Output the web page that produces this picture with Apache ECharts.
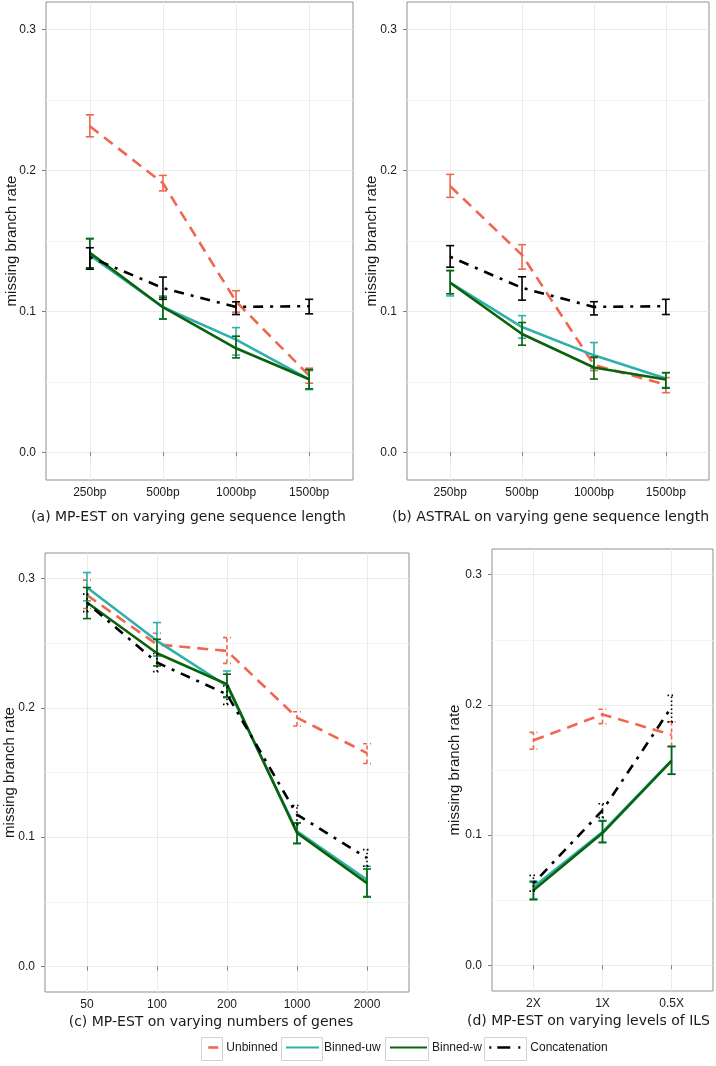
<!DOCTYPE html>
<html><head><meta charset="utf-8">
<script src="https://cdn.jsdelivr.net/npm/echarts@6/dist/echarts.min.js"></script>
<style>html,body{margin:0;padding:0;background:#fff}#c{width:716px;height:1066px}</style>
</head><body><div id="c"></div>
<script>
// ---------- categories / ticks ----------
const methods = ['Unbinned', 'Binned-uw', 'Binned-w', 'Concatenation'];
const catsA = ['250bp', '500bp', '1000bp', '1500bp'];
const catsB = ['250bp', '500bp', '1000bp', '1500bp'];
const catsC = ['50', '100', '200', '1000', '2000'];
const catsD = ['2X', '1X', '0.5X'];
const yTicks = [0, 0.1, 0.2, 0.3];
const yMinor = [0.05, 0.15, 0.25];
const captions = [
  '(a) MP-EST on varying gene sequence length',
  '(b) ASTRAL on varying gene sequence length',
  '(c) MP-EST on varying numbers of genes',
  '(d) MP-EST on varying levels of ILS'
];

// ---------- panel (a) ----------
const aUnbinned = [0.2315, 0.191, 0.107, 0.0545];
const aUnbinnedLo = [0.224, 0.1856, 0.0995, 0.049];
const aUnbinnedHi = [0.2396, 0.1966, 0.1147, 0.0597];
const aBinnedUw = [0.1399, 0.103, 0.080, 0.0518];
const aBinnedUwLo = [0.130, 0.0946, 0.069, 0.0445];
const aBinnedUwHi = [0.152, 0.111, 0.0885, 0.058];
const aBinnedW = [0.1416, 0.103, 0.0738, 0.0518];
const aBinnedWLo = [0.131, 0.0946, 0.067, 0.045];
const aBinnedWHi = [0.1515, 0.110, 0.0824, 0.0587];
const aConcat = [0.1386, 0.1166, 0.1032, 0.1037];
const aConcatLo = [0.130, 0.1086, 0.0978, 0.0983];
const aConcatHi = [0.1452, 0.1244, 0.1068, 0.1086];

// ---------- panel (b) ----------
const bUnbinned = [0.189, 0.140, 0.062, 0.048];
const bUnbinnedLo = [0.181, 0.130, 0.058, 0.0423];
const bUnbinnedHi = [0.1973, 0.1474, 0.067, 0.053];
const bBinnedUw = [0.1204, 0.0889, 0.0688, 0.0523];
const bBinnedUwLo = [0.111, 0.081, 0.0595, 0.046];
const bBinnedUwHi = [0.129, 0.097, 0.0779, 0.0565];
const bBinnedW = [0.1204, 0.084, 0.0602, 0.0516];
const bBinnedWLo = [0.1125, 0.076, 0.052, 0.0455];
const bBinnedWHi = [0.129, 0.0921, 0.0676, 0.0565];
const bConcat = [0.1388, 0.1167, 0.1032, 0.1037];
const bConcatLo = [0.1314, 0.108, 0.0975, 0.0978];
const bConcatHi = [0.1467, 0.1246, 0.1069, 0.1086];

// ---------- panel (c) ----------
const cUnbinned = [0.2871, 0.249, 0.244, 0.1924, 0.165];
const cUnbinnedLo = [0.2768, 0.240, 0.2344, 0.186, 0.157];
const cUnbinnedHi = [0.2987, 0.2577, 0.2543, 0.197, 0.1722];
const cBinnedUw = [0.293, 0.2518, 0.2169, 0.1046, 0.0671];
const cBinnedUwLo = [0.2827, 0.240, 0.2078, 0.0955, 0.0542];
const cBinnedUwHi = [0.3046, 0.2659, 0.2285, 0.111, 0.0775];
const cBinnedW = [0.2814, 0.2422, 0.2182, 0.1033, 0.0645];
const cBinnedWLo = [0.269, 0.2324, 0.2084, 0.095, 0.0537];
const cBinnedWHi = [0.293, 0.253, 0.226, 0.111, 0.0754];
const cConcat = [0.281, 0.235, 0.2104, 0.1175, 0.0839];
const cConcatLo = [0.2744, 0.228, 0.2027, 0.1097, 0.0775];
const cConcatHi = [0.2879, 0.242, 0.2169, 0.1245, 0.0904];

// ---------- panel (d) ----------
const dUnbinned = [0.1728, 0.1927, 0.177];
const dUnbinnedLo = [0.1659, 0.1856, 0.168];
const dUnbinnedHi = [0.1789, 0.1966, 0.187];
const dBinnedUw = [0.0601, 0.1024, 0.1574];
const dBinnedUwLo = [0.0512, 0.0947, 0.147];
const dBinnedUwHi = [0.0648, 0.1113, 0.1682];
const dBinnedW = [0.0576, 0.1016, 0.157];
const dBinnedWLo = [0.0504, 0.0942, 0.1467];
const dBinnedWHi = [0.064, 0.1108, 0.168];
const dConcat = [0.063, 0.119, 0.1984];
const dConcatLo = [0.057, 0.1134, 0.1868];
const dConcatHi = [0.0691, 0.1241, 0.2073];

// ---------- styling ----------
const colors = {'Unbinned': '#F0674F', 'Binned-uw': '#2FB0AA', 'Binned-w': '#0A630A', 'Concatenation': '#000000'};
const lineTypes = {'Unbinned': [11, 7], 'Binned-uw': 'solid', 'Binned-w': 'solid', 'Concatenation': [3, 7, 10, 7]};
const FONT = '"Liberation Sans", Arial, sans-serif';
const TXT = '#1a1a1a';

const panels = [
  {cats: catsA, grid: {left: 46, top: 2, width: 307, height: 478}, nameGap: 27, cap: [188.5, 517], dashedErr: false,
   data: [[aUnbinned, aUnbinnedLo, aUnbinnedHi], [aBinnedUw, aBinnedUwLo, aBinnedUwHi], [aBinnedW, aBinnedWLo, aBinnedWHi], [aConcat, aConcatLo, aConcatHi]]},
  {cats: catsB, grid: {left: 407, top: 2, width: 302, height: 478}, nameGap: 28, cap: [550.5, 517], dashedErr: false,
   data: [[bUnbinned, bUnbinnedLo, bUnbinnedHi], [bBinnedUw, bBinnedUwLo, bBinnedUwHi], [bBinnedW, bBinnedWLo, bBinnedWHi], [bConcat, bConcatLo, bConcatHi]]},
  {cats: catsC, grid: {left: 45, top: 553, width: 364, height: 439}, nameGap: 28, cap: [211, 1022], dashedErr: true,
   data: [[cUnbinned, cUnbinnedLo, cUnbinnedHi], [cBinnedUw, cBinnedUwLo, cBinnedUwHi], [cBinnedW, cBinnedWLo, cBinnedWHi], [cConcat, cConcatLo, cConcatHi]]},
  {cats: catsD, grid: {left: 492, top: 549, width: 221, height: 442}, nameGap: 30, cap: [588.5, 1021], dashedErr: true,
   data: [[dUnbinned, dUnbinnedLo, dUnbinnedHi], [dBinnedUw, dBinnedUwLo, dBinnedUwHi], [dBinnedW, dBinnedWLo, dBinnedWHi], [dConcat, dConcatLo, dConcatHi]]}
];

const Y_MIN = -0.0197, Y_MAX = 0.3197;
const grids = [], xAxes = [], yAxes = [], series = [], graphics = [];

panels.forEach((p, pi) => {
  grids.push(Object.assign({show: true, borderColor: '#8f8f8f', borderWidth: 1, backgroundColor: '#fff',
    containLabel: false, outerBoundsMode: 'none'}, p.grid));
  const idx = p.cats.map((c, i) => i);
  xAxes.push({
    type: 'value', gridIndex: pi, min: -0.6, max: p.cats.length - 0.4, position: 'bottom',
    axisLine: {show: false},
    axisTick: {show: true, length: 4, customValues: idx, lineStyle: {color: '#7f7f7f'}},
    axisLabel: {show: true, customValues: idx, margin: 7, fontSize: 12, color: TXT, fontFamily: FONT,
                formatter: v => p.cats[Math.round(v)]},
    splitLine: {show: true, lineStyle: {color: '#ebebeb', width: 1}}
  });
  // minor grid (y)
  yAxes.push({
    type: 'value', gridIndex: pi, min: Y_MIN, max: Y_MAX, position: 'left', offset: 0,
    axisLine: {show: false}, axisLabel: {show: false},
    axisTick: {show: false, customValues: yMinor},
    splitLine: {show: true, lineStyle: {color: '#f4f4f4', width: 1}}
  });
  // major y
  yAxes.push({
    type: 'value', gridIndex: pi, min: Y_MIN, max: Y_MAX, position: 'left', offset: 0,
    name: 'missing branch rate', nameLocation: 'middle', nameGap: p.nameGap, nameMoveOverlap: false,
    nameTextStyle: {fontSize: 15, color: TXT, fontFamily: FONT},
    axisLine: {show: false, onZero: false},
    axisTick: {show: true, length: 4, customValues: yTicks, lineStyle: {color: '#7f7f7f'}},
    axisLabel: {show: true, customValues: yTicks, margin: 10, fontSize: 12, color: TXT, fontFamily: FONT,
                formatter: v => v.toFixed(1)},
    splitLine: {show: true, lineStyle: {color: '#ebebeb', width: 1}}
  });
  methods.forEach((m, mi) => {
    const [mean, lo, hi] = p.data[mi];
    series.push({
      type: 'line', name: m, xAxisIndex: pi, yAxisIndex: pi * 2 + 1,
      data: mean.map((v, i) => [i, v]), symbol: 'none', z: 3 + mi,
      lineStyle: {color: colors[m], width: 2.6, type: lineTypes[m]},
      itemStyle: {color: colors[m]}
    });
    let dash = null;
    if (p.dashedErr && m === 'Unbinned') dash = [4, 3];
    if (p.dashedErr && m === 'Concatenation') dash = [1.5, 2.5];
    series.push({
      type: 'custom', name: m + ' err', xAxisIndex: pi, yAxisIndex: pi * 2 + 1, z: 3 + mi,
      encode: {x: 0, y: [1, 2]},
      data: lo.map((v, i) => [i, v, hi[i]]),
      renderItem: (params, api) => {
        const x = api.value(0);
        const a = api.coord([x, api.value(1)]);
        const b = api.coord([x, api.value(2)]);
        const hw = 4;
        const st = {stroke: colors[m], lineWidth: 1.6, lineDash: dash, fill: null};
        return {type: 'group', children: [
          {type: 'line', shape: {x1: a[0], y1: a[1], x2: b[0], y2: b[1]}, style: st},
          {type: 'line', shape: {x1: a[0] - hw, y1: a[1], x2: a[0] + hw, y2: a[1]}, style: st},
          {type: 'line', shape: {x1: b[0] - hw, y1: b[1], x2: b[0] + hw, y2: b[1]}, style: st}
        ]};
      }
    });
  });
  graphics.push({type: 'text', x: p.cap[0], y: p.cap[1],
    style: {text: captions[pi], font: '14px "DejaVu Sans", sans-serif', fill: TXT,
            textAlign: 'center', textVerticalAlign: 'middle', align: 'center', verticalAlign: 'middle'}});
});

// legend key boxes
[[201, 1037, 21, 23], [281, 1037, 41, 23], [385, 1037, 43, 23], [484, 1037, 42, 23]].forEach(r => {
  graphics.push({type: 'rect', shape: {x: r[0] + 0.5, y: r[1] + 0.5, width: r[2], height: r[3]},
    style: {fill: '#fff', stroke: '#d2d2d2', lineWidth: 1}, z: -1});
});

const legendCommon = {orient: 'horizontal', top: 1041.5, padding: 0, itemHeight: 14, selectedMode: false,
  itemStyle: {opacity: 0},
  textStyle: {fontSize: 12, color: TXT, fontFamily: FONT}};
const legends = [
  Object.assign({}, legendCommon, {left: 207, itemWidth: 10,
    data: [{name: 'Unbinned', lineStyle: {type: 'solid', width: 2.6}}], textStyle: Object.assign({}, legendCommon.textStyle, {padding: [0, 0, 0, 3]})}),
  Object.assign({}, legendCommon, {left: 285, itemWidth: 33, data: [{name: 'Binned-uw'}]}),
  Object.assign({}, legendCommon, {left: 389, itemWidth: 37, data: [{name: 'Binned-w'}]}),
  Object.assign({}, legendCommon, {left: 488, itemWidth: 33,
    data: [{name: 'Concatenation', lineStyle: {type: [2, 6, 13, 8, 2, 30], width: 2.6}}], textStyle: Object.assign({}, legendCommon.textStyle, {padding: [0, 0, 0, 3]})})
];

const chart = echarts.init(document.getElementById('c'), null, {renderer: 'canvas'});
chart.setOption({
  animation: false,
  backgroundColor: '#fff',
  grid: grids, xAxis: xAxes, yAxis: yAxes, series: series,
  legend: legends, graphic: graphics
});
</script>
</body></html>
